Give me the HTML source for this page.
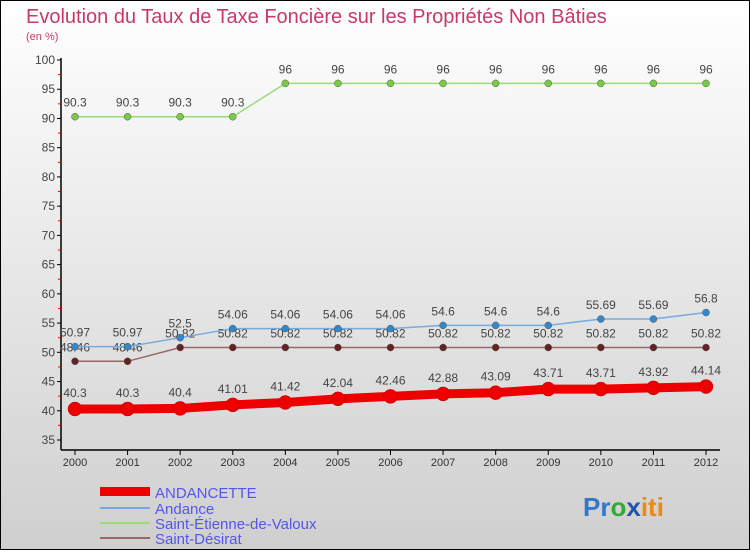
<!DOCTYPE html>
<html><head><meta charset="utf-8"><style>
html,body{margin:0;padding:0}
body{width:750px;height:550px;overflow:hidden;font-family:"Liberation Sans",sans-serif}
</style></head><body>
<svg id="chart" width="750" height="550" xmlns="http://www.w3.org/2000/svg" font-family="Liberation Sans, sans-serif">
<defs><linearGradient id="bg" x1="0" y1="0" x2="0" y2="1"><stop offset="0" stop-color="#ffffff"/><stop offset="1" stop-color="#cfcfcf"/></linearGradient></defs>
<rect x="0.5" y="0.5" width="749" height="549" fill="url(#bg)" stroke="#000" stroke-width="1"/>
<text x="26" y="23" font-size="20" fill="#c8386b">Evolution du Taux de Taxe Foncière sur les Propriétés Non Bâties</text>
<text x="26" y="40" font-size="11" fill="#c8386b">(en %)</text>
<g id="axes"></g><g id="series"></g>
<g font-size="15" fill="#5555ee">
<rect x="100" y="487" width="50" height="9" fill="#ee0000"/>
<text x="155" y="498">ANDANCETTE</text>
<rect x="100" y="507" width="50" height="2" fill="#77aadd"/>
<text x="155" y="514">Andance</text>
<rect x="100" y="522" width="50" height="2" fill="#99dd77"/>
<text x="155" y="529">Saint-Étienne-de-Valoux</text>
<rect x="100" y="537" width="50" height="2" fill="#996666"/>
<text x="155" y="544">Saint-Désirat</text>
</g>
<text x="583" y="516" font-size="26" font-weight="bold"><tspan fill="#3377cc">Pr</tspan><tspan fill="#33aa33">o</tspan><tspan fill="#2255aa">x</tspan><tspan fill="#ee8811">iti</tspan></text>
</svg>
<script>
const years=["2000","2001","2002","2003","2004","2005","2006","2007","2008","2009","2010","2011","2012"];
const yTicks=[35,40,45,50,55,60,65,70,75,80,85,90,95,100];
const andancette=[40.3,40.3,40.4,41.01,41.42,42.04,42.46,42.88,43.09,43.71,43.71,43.92,44.14];
const andance=[50.97,50.97,52.5,54.06,54.06,54.06,54.06,54.6,54.6,54.6,55.69,55.69,56.8];
const stEtienne=[90.3,90.3,90.3,90.3,96,96,96,96,96,96,96,96,96];
const stDesirat=[48.46,48.46,50.82,50.82,50.82,50.82,50.82,50.82,50.82,50.82,50.82,50.82,50.82];
const NS="http://www.w3.org/2000/svg";
const x=i=>75+i*(706-75)/(years.length-1);
const y=v=>440-(v-35)*(380/65);
function mk(t,a,p){const e=document.createElementNS(NS,t);for(const k in a)e.setAttribute(k,a[k]);p.appendChild(e);return e;}
const ax=document.getElementById('axes');
let e=mk('line',{x1:61,y1:58,x2:61,y2:450,stroke:'#000','stroke-width':1.5},ax);


e=mk('line',{x1:61,y1:450,x2:720,y2:450,stroke:'#000','stroke-width':1.5},ax);


yTicks.forEach((v,i)=>{
  mk('line',{x1:57,y1:y(v),x2:61,y2:y(v),stroke:'#000'},ax);
  if(i<yTicks.length-1) mk('line',{x1:58,y1:y(v+2.5),x2:61,y2:y(v+2.5),stroke:'#e00'},ax);
  const t=mk('text',{x:55,y:y(v)+4,'text-anchor':'end','font-size':12,fill:'#444'},ax);
  
  
  t.textContent=v;
});
years.forEach((yr,i)=>{
  mk('line',{x1:x(i),y1:450,x2:x(i),y2:455,stroke:'#000'},ax);
  const t=mk('text',{x:x(i),y:466,'text-anchor':'middle','font-size':11,fill:'#333'},ax);
  
  
  t.textContent=yr;
});
const sg=document.getElementById('series');
function series(vals,name,lc,pc,lw,r,dy){
  const g=mk('g',{},sg);
  
  
  const l=mk('polyline',{points:vals.map((v,i)=>x(i)+','+y(v)).join(' '),fill:'none',stroke:lc,'stroke-width':lw},g);
  
  
  vals.forEach((v,i)=>{
    const c=mk('circle',{cx:x(i),cy:y(v),r:r,fill:pc,stroke:lc==pc?'#b00':'#555','stroke-width':0.5},g);
    
    
    const t=mk('text',{x:x(i),y:y(v)+dy,'text-anchor':'middle','font-size':12,fill:'#444'},g);
    
    
    t.textContent=v;
  });
}
series(stEtienne,'saint-etienne','#99dd77','#77cc44',1.5,3.5,-10);
series(stDesirat,'saint-desirat','#996666','#662222',1.5,3.5,-10);
series(andance,'andance','#77aadd','#3388cc',1.5,3.5,-10);
series(andancette,'andancette','#ee0000','#ee0000',9,7,-12);
</script>
</body></html>
